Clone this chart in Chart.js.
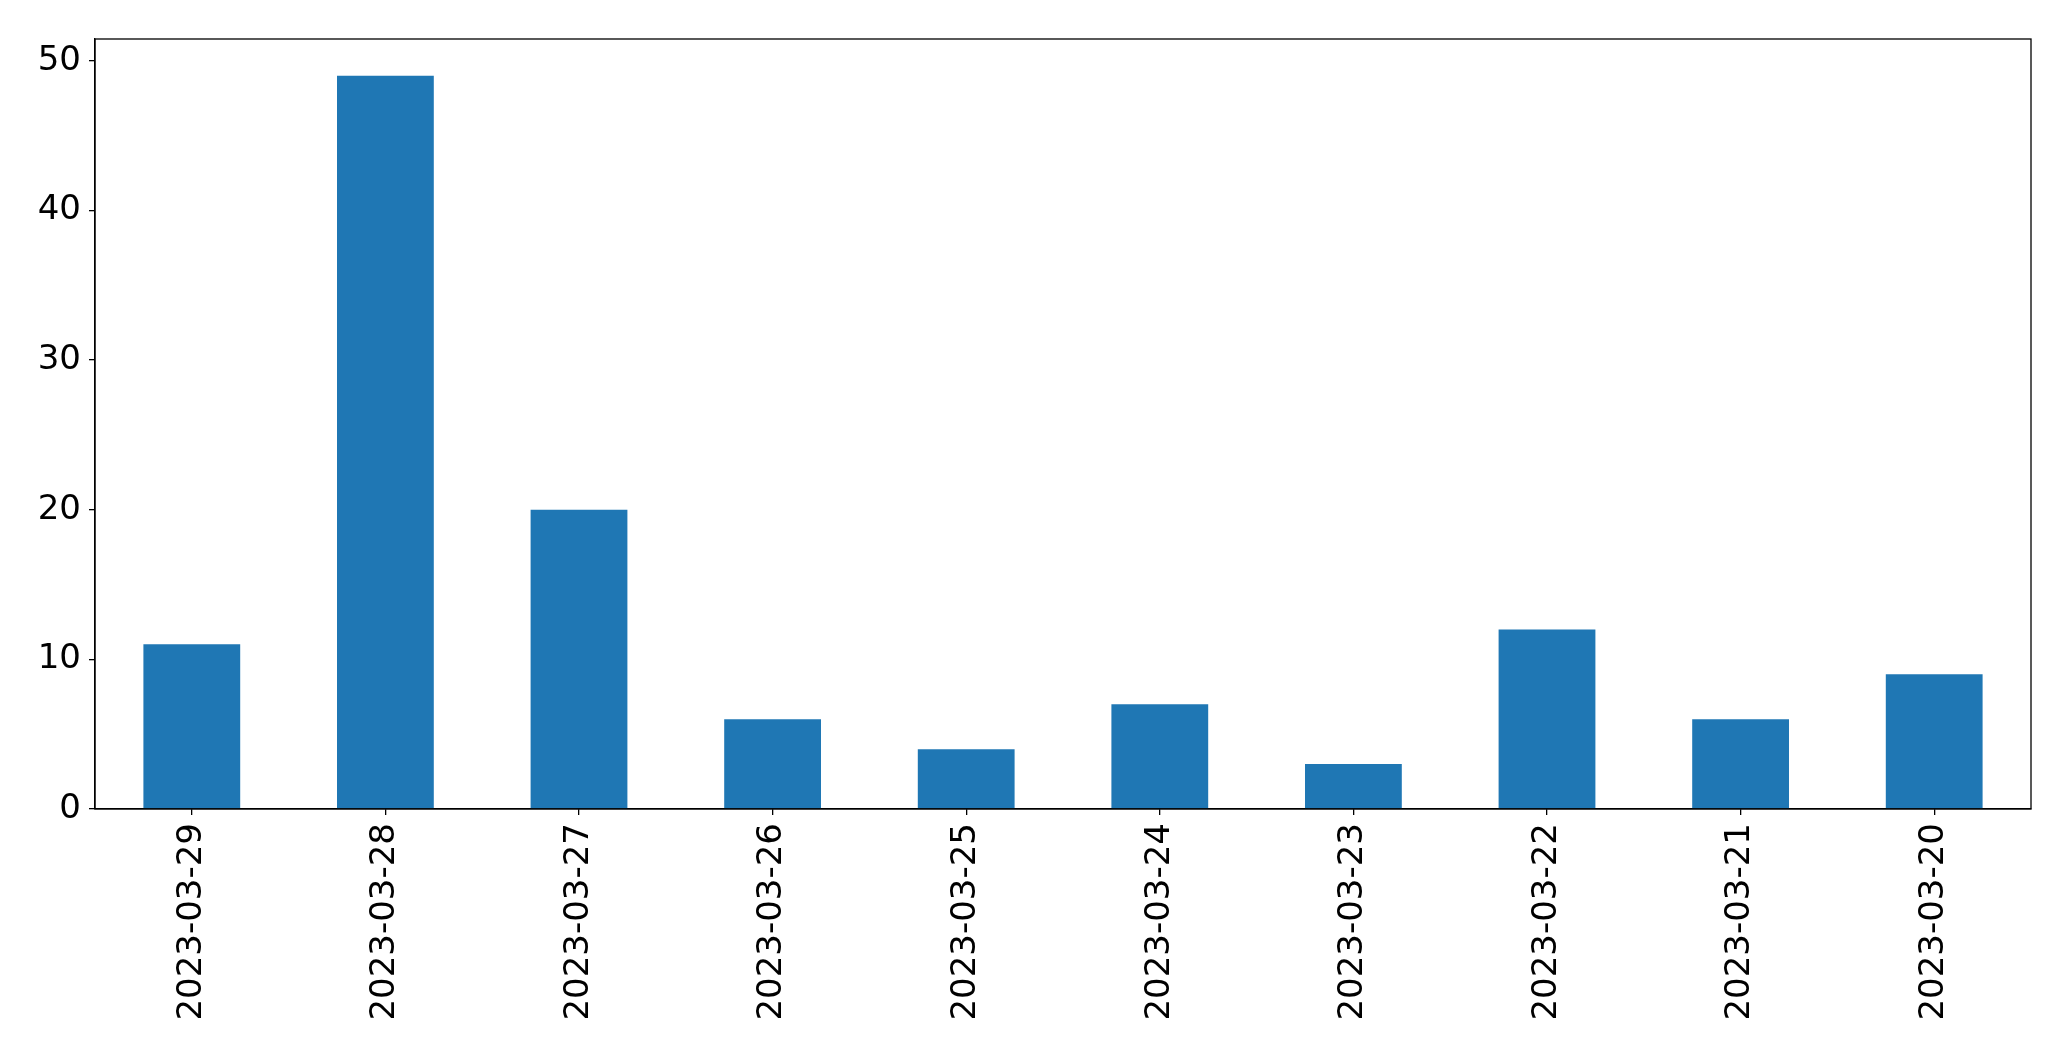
<!DOCTYPE html>
<html lang="en">
<head>
  <meta charset="UTF-8">
  <title>Daily counts</title>
  <script src="https://cdn.jsdelivr.net/npm/chart.js"></script>
  <style>
    body {
      margin: 0;
      padding: 0;
      background: #ffffff;
    }
    canvas {
      display: block;
    }
  </style>
</head>
<body>
  <canvas id="barChart" width="2071" height="1061"></canvas>

  <script>
    const dates = ['2023-03-29', '2023-03-28', '2023-03-27', '2023-03-26', '2023-03-25',
                   '2023-03-24', '2023-03-23', '2023-03-22', '2023-03-21', '2023-03-20'];
    const counts = [11, 49, 20, 6, 4, 7, 3, 12, 6, 9];
    const yTicks = [0, 10, 20, 30, 40, 50];

    // box around the plot area, like matplotlib spines
    const frame = {
      id: 'frame',
      afterDraw(chart) {
        const { ctx, chartArea: a } = chart;
        ctx.save();
        ctx.strokeStyle = '#000';
        ctx.lineWidth = 1.3;
        ctx.strokeRect(a.left, a.top, a.right - a.left, a.bottom - a.top);
        ctx.restore();
      }
    };

    const font = { family: 'DejaVu Sans', size: 34 };

    new Chart(document.getElementById('barChart'), {
      type: 'bar',
      data: {
        labels: dates,
        datasets: [{
          data: counts,
          backgroundColor: '#1f77b4',
          barPercentage: 0.5,
          categoryPercentage: 1.0
        }]
      },
      options: {
        responsive: false,
        devicePixelRatio: 1,
        animation: false,
        layout: { padding: { top: 39, right: 40, left: 0, bottom: 0 } },
        plugins: {
          legend: { display: false },
          tooltip: { enabled: false }
        },
        scales: {
          x: {
            offset: true,
            grid: { offset: false, drawOnChartArea: false, tickLength: 6, color: '#000', lineWidth: 1.3 },
            border: { display: true, color: '#000', width: 1.3 },
            ticks: { color: '#000', font: font, minRotation: 90, maxRotation: 90, padding: 8, autoSkip: false },
            afterFit(scale) { scale.height = 252; }
          },
          y: {
            min: 0,
            max: 51.45,
            afterBuildTicks(scale) { scale.ticks = yTicks.map(v => ({ value: v })); },
            grid: { drawOnChartArea: false, tickLength: 6, color: '#000', lineWidth: 1.3 },
            border: { display: true, color: '#000', width: 1.3 },
            ticks: { color: '#000', font: font, padding: 8 },
            afterFit(scale) { scale.width = 95; }
          }
        }
      },
      plugins: [frame]
    });
  </script>
</body>
</html>
